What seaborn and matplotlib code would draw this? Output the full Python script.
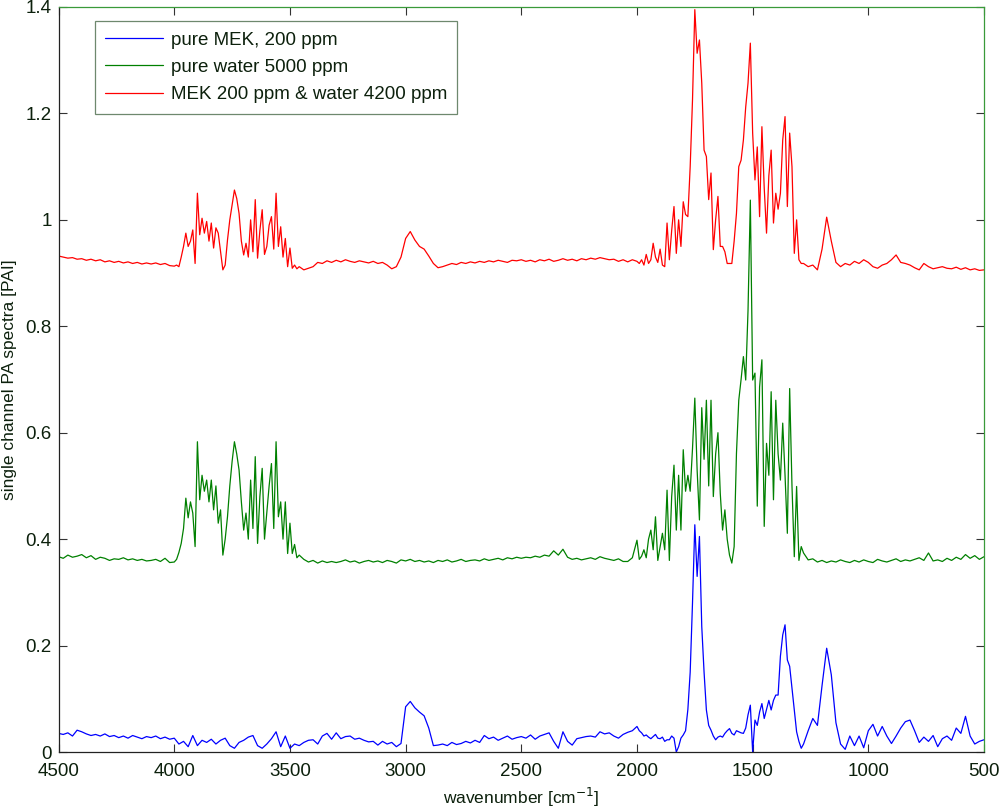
import numpy as np
import pandas as pd
import matplotlib
matplotlib.use("Agg")
import matplotlib.pyplot as plt
import seaborn as sns
from matplotlib.ticker import FuncFormatter

# wavenumber grids (cm^-1); finer sampling where the bands are
wn_mek = np.concatenate([np.arange(4500, 2000, -20), np.arange(2000, 1280, -10),
                         np.arange(1280, 499, -20)])
wn_water = np.concatenate([np.arange(4500, 4000, -20), np.arange(4000, 3450, -10),
                           np.arange(3440, 2000, -20), np.arange(2000, 1280, -10),
                           np.arange(1280, 499, -20)])

mek = [
    # 4500 .. 2020
    0.035, 0.033, 0.036, 0.030, 0.041, 0.038, 0.034, 0.031, 0.033, 0.030,
    0.034, 0.029, 0.031, 0.027, 0.030, 0.026, 0.031, 0.028, 0.025, 0.029,
    0.027, 0.030, 0.025, 0.028, 0.024, 0.026, 0.015, 0.020, 0.010, 0.031,
    0.012, 0.022, 0.018, 0.024, 0.015, 0.022, 0.026, 0.012, 0.007, 0.018,
    0.022, 0.028, 0.031, 0.012, 0.007, 0.015, 0.025, 0.038, 0.010, 0.030,
    0.007, 0.015, 0.012, 0.018, 0.022, 0.023, 0.015, 0.030, 0.035, 0.024,
    0.036, 0.025, 0.029, 0.030, 0.024, 0.026, 0.022, 0.019, 0.020, 0.013,
    0.020, 0.015, 0.018, 0.010, 0.016, 0.085, 0.095, 0.083, 0.075, 0.068,
    0.045, 0.012, 0.013, 0.015, 0.012, 0.018, 0.014, 0.016, 0.020, 0.017,
    0.022, 0.018, 0.031, 0.025, 0.028, 0.022, 0.026, 0.030, 0.024, 0.027,
    0.029, 0.026, 0.032, 0.024, 0.030, 0.033, 0.036, 0.020, 0.007, 0.038,
    0.020, 0.013, 0.025, 0.027, 0.029, 0.030, 0.028, 0.038, 0.034, 0.036,
    0.030, 0.026, 0.033, 0.037, 0.040,
    # 2000 .. 1290
    0.048, 0.040, 0.036, 0.030, 0.032, 0.028, 0.025, 0.029, 0.033, 0.026,
    0.025, 0.028, 0.020, 0.023, 0.023, 0.030, 0.026, 0.000, 0.010, 0.026,
    0.032, 0.040, 0.080, 0.150, 0.280, 0.427, 0.330, 0.405, 0.236, 0.150,
    0.079, 0.050, 0.041, 0.030, 0.023, 0.028, 0.030, 0.028, 0.035, 0.040,
    0.044, 0.035, 0.032, 0.040, 0.038, 0.036, 0.035, 0.045, 0.070, 0.088,
    0.000, 0.060, 0.050, 0.075, 0.091, 0.063, 0.080, 0.097, 0.079, 0.097,
    0.107, 0.107, 0.180, 0.220, 0.239, 0.173, 0.161, 0.120, 0.079, 0.038,
    0.020, 0.007,
    # 1280 .. 500
    0.015, 0.040, 0.063, 0.050, 0.125, 0.195, 0.145, 0.055, 0.015,
    0.005, 0.030, 0.012, 0.030, 0.008, 0.040, 0.052, 0.030, 0.048, 0.030,
    0.016, 0.030, 0.045, 0.057, 0.060, 0.040, 0.018, 0.028, 0.020, 0.031,
    0.010, 0.025, 0.030, 0.022, 0.045, 0.035, 0.067, 0.030, 0.015, 0.020,
    0.023,
]

water = [
    # 4500 .. 4020
    0.367, 0.364, 0.370, 0.366, 0.368, 0.371, 0.365, 0.369, 0.362, 0.366,
    0.364, 0.360, 0.363, 0.362, 0.365, 0.361, 0.363, 0.360, 0.362, 0.359,
    0.360, 0.362, 0.358, 0.364, 0.356,
    # 4000 .. 3460
    0.357, 0.362, 0.375, 0.392, 0.420, 0.477, 0.440, 0.470, 0.449, 0.386,
    0.583, 0.474, 0.520, 0.490, 0.511, 0.470, 0.511, 0.455, 0.500, 0.430,
    0.455, 0.370, 0.400, 0.442, 0.500, 0.546, 0.583, 0.560, 0.530, 0.470,
    0.417, 0.449, 0.400, 0.511, 0.420, 0.555, 0.392, 0.480, 0.533, 0.400,
    0.449, 0.500, 0.542, 0.420, 0.583, 0.442, 0.470, 0.400, 0.470, 0.373,
    0.430, 0.373, 0.390, 0.365, 0.370,
    # 3440 .. 2020
    0.362, 0.357, 0.360, 0.355, 0.359, 0.356, 0.358,
    0.356, 0.358, 0.361, 0.357, 0.359, 0.355, 0.358, 0.360, 0.357, 0.359,
    0.356, 0.360, 0.358, 0.355, 0.361, 0.359, 0.362, 0.358, 0.360, 0.357,
    0.359, 0.356, 0.360, 0.358, 0.361, 0.357, 0.359, 0.362, 0.358, 0.360,
    0.361, 0.359, 0.363, 0.360, 0.362, 0.364, 0.361, 0.365, 0.363, 0.366,
    0.364, 0.366, 0.365, 0.368, 0.366, 0.370, 0.368, 0.378, 0.370, 0.381,
    0.366, 0.362, 0.364, 0.361, 0.363, 0.365, 0.362, 0.367, 0.364, 0.362,
    0.360, 0.363, 0.358, 0.358, 0.365,
    # 2000 .. 1290
    0.398, 0.362, 0.368, 0.380, 0.365, 0.400, 0.417, 0.380, 0.442, 0.360,
    0.385, 0.411, 0.380, 0.492, 0.360, 0.480, 0.539, 0.417, 0.520, 0.417,
    0.568, 0.490, 0.520, 0.490, 0.570, 0.665, 0.530, 0.436, 0.647, 0.550,
    0.661, 0.500, 0.661, 0.480, 0.560, 0.600, 0.486, 0.417, 0.455, 0.400,
    0.370, 0.355, 0.386, 0.561, 0.661, 0.700, 0.743, 0.699, 0.830, 1.037,
    0.699, 0.712, 0.462, 0.686, 0.737, 0.424, 0.580, 0.520, 0.677, 0.474,
    0.661, 0.560, 0.511, 0.618, 0.520, 0.411, 0.683, 0.500, 0.367, 0.499,
    0.360, 0.386,
    # 1280 .. 500
    0.374, 0.361, 0.363, 0.357, 0.360, 0.356, 0.359, 0.357, 0.361,
    0.358, 0.356, 0.360, 0.357, 0.361, 0.358, 0.356, 0.362, 0.359, 0.357,
    0.360, 0.363, 0.358, 0.361, 0.359, 0.362, 0.365, 0.360, 0.374, 0.359,
    0.361, 0.358, 0.364, 0.360, 0.366, 0.362, 0.371, 0.364, 0.369, 0.362,
    0.367,
]

mixture = [
    # 4500 .. 4020
    0.932, 0.930, 0.928, 0.929, 0.926, 0.927, 0.924, 0.926, 0.923, 0.925,
    0.921, 0.923, 0.920, 0.922, 0.919, 0.921, 0.918, 0.920, 0.917, 0.919,
    0.917, 0.919, 0.916, 0.918, 0.914,
    # 4000 .. 3460
    0.913, 0.915, 0.912, 0.930, 0.950, 0.975, 0.950, 0.960, 0.981, 0.918,
    1.050, 0.972, 1.003, 0.975, 0.997, 0.960, 0.994, 0.947, 0.985, 0.975,
    0.940, 0.906, 0.915, 0.962, 1.000, 1.028, 1.056, 1.040, 1.012, 0.960,
    0.934, 0.956, 0.930, 1.000, 0.940, 1.038, 0.928, 0.980, 1.019, 0.935,
    0.950, 0.990, 1.006, 0.945, 1.050, 0.950, 0.987, 0.930, 0.965, 0.912,
    0.947, 0.909, 0.915, 0.908, 0.912,
    # 3440 .. 2020
    0.906, 0.909, 0.912, 0.920, 0.918, 0.923, 0.920,
    0.924, 0.921, 0.925, 0.922, 0.920, 0.923, 0.921, 0.919, 0.922, 0.918,
    0.920, 0.915, 0.908, 0.912, 0.930, 0.965, 0.978, 0.962, 0.950, 0.945,
    0.932, 0.918, 0.910, 0.912, 0.915, 0.918, 0.916, 0.920, 0.918, 0.921,
    0.919, 0.922, 0.920, 0.923, 0.921, 0.924, 0.922, 0.920, 0.924, 0.923,
    0.925, 0.922, 0.924, 0.921, 0.925, 0.923, 0.926, 0.922, 0.924, 0.927,
    0.924, 0.926, 0.923, 0.927, 0.925, 0.928, 0.926, 0.929, 0.927, 0.925,
    0.926, 0.922, 0.925, 0.921, 0.925,
    # 2000 .. 1290
    0.922, 0.918, 0.925, 0.915, 0.935, 0.918, 0.925, 0.956, 0.930, 0.920,
    0.945, 0.915, 0.912, 0.994, 0.925, 0.980, 1.025, 0.937, 1.000, 0.950,
    1.034, 1.010, 1.006, 1.100, 1.225, 1.395, 1.313, 1.338, 1.257, 1.131,
    1.119, 1.038, 1.088, 0.944, 1.000, 1.044, 0.950, 0.950, 0.940, 0.918,
    0.918, 0.918, 0.960, 1.012, 1.100, 1.112, 1.150, 1.212, 1.257, 1.332,
    1.163, 1.075, 1.137, 1.006, 1.175, 1.060, 0.975, 1.083, 1.131, 0.994,
    1.050, 1.020, 1.050, 1.150, 1.194, 1.025, 1.163, 1.100, 0.937, 1.000,
    0.925, 0.918,
    # 1280 .. 500
    0.918, 0.912, 0.915, 0.906, 0.945, 1.005, 0.960, 0.920, 0.912,
    0.918, 0.915, 0.922, 0.918, 0.925, 0.920, 0.912, 0.909, 0.915, 0.918,
    0.925, 0.934, 0.920, 0.918, 0.915, 0.910, 0.906, 0.918, 0.912, 0.908,
    0.910, 0.912, 0.909, 0.908, 0.911, 0.907, 0.910, 0.906, 0.908, 0.905,
    0.906,
]

labels = ["pure MEK, 200 ppm", "pure water 5000 ppm", "MEK 200 ppm & water 4200 ppm"]
colors = ["#0000ff", "#008000", "#ff0000"]

df = pd.concat([
    pd.DataFrame({"wavenumber": wn_mek, "signal": mek, "series": labels[0]}),
    pd.DataFrame({"wavenumber": wn_water, "signal": water, "series": labels[1]}),
    pd.DataFrame({"wavenumber": wn_water, "signal": mixture, "series": labels[2]}),
])

sns.set_style("ticks")
plt.rcParams["font.family"] = ["Liberation Sans", "DejaVu Sans"]
txt = "#0c200c"

fig = plt.figure(figsize=(10, 8.1), dpi=100)
ax = fig.add_axes([0.0586, 0.0716, 0.9254, 0.9198])

sns.lineplot(data=df, x="wavenumber", y="signal", hue="series",
             hue_order=labels, palette=colors, linewidth=0.9,
             estimator=None, sort=False, ax=ax)

ax.set_xlim(4500, 500)
ax.set_ylim(0, 1.4)
ax.set_xticks(np.arange(4500, 499, -500))
ax.set_yticks(np.arange(0, 1.41, 0.2))
ax.yaxis.set_major_formatter(FuncFormatter(lambda v, p: "%g" % round(v, 2)))

ax.tick_params(direction="in", length=6, width=0.8, top=True, right=True,
               labelsize=13.5, labelcolor=txt, colors="#333333", pad=5)
ax.tick_params(axis="x", pad=8)
for s in ["left", "bottom"]:
    ax.spines[s].set_color("#222222")
    ax.spines[s].set_linewidth(0.9)
for s in ["top", "right"]:
    ax.spines[s].set_color("#3a9a3a")
    ax.spines[s].set_linewidth(0.9)
    ax.spines[s].set_visible(True)

ax.set_xlabel("wavenumber [cm$^{-1}$]", fontsize=12.5, color=txt, labelpad=4)
ax.set_ylabel("single channel PA spectra [PAI]", fontsize=12.5, color=txt, labelpad=6)

leg = ax.legend(loc="upper left", bbox_to_anchor=(0.039, 0.981), fontsize=13.5,
                frameon=True, fancybox=False, edgecolor="#4a6a4a",
                handlelength=3.1, handletextpad=0.4, labelspacing=0.55,
                borderpad=0.55, borderaxespad=0)
leg.get_frame().set_linewidth(0.9)
for t in leg.get_texts():
    t.set_color(txt)
for h in leg.get_lines():
    h.set_linewidth(0.9)

fig.savefig("out.png", dpi=100)
